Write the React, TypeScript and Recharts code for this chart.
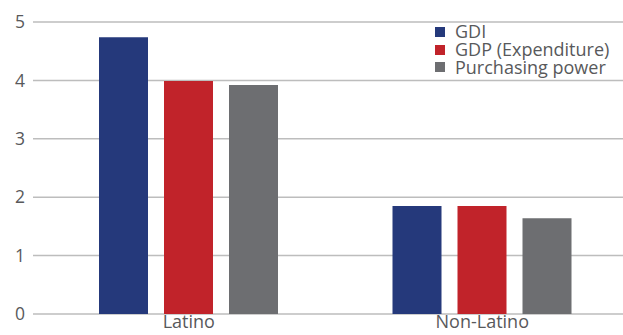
import { BarChart, Bar, XAxis, YAxis, CartesianGrid } from "recharts";

const categories = ["Latino", "Non-Latino"];
const gdi = [4.74, 1.85];
const gdp = [3.99, 1.85];
const purchasing = [3.92, 1.64];
const yTicks = [0, 1, 2, 3, 4, 5];

const series = [
  { key: "gdi", name: "GDI", color: "#25397b" },
  { key: "gdp", name: "GDP (Expenditure)", color: "#c1232a" },
  { key: "pp", name: "Purchasing power", color: "#6d6e71" },
];

const data = categories.map((c, i) => ({
  name: c,
  gdi: gdi[i],
  gdp: gdp[i],
  pp: purchasing[i],
}));

const font = "'Open Sans', Lato, sans-serif";
const textColor = "#58595b";

function LegendBox() {
  return (
    <div
      style={{
        position: "absolute",
        left: 435,
        top: 23,
        fontFamily: font,
        fontSize: 18,
        color: textColor,
      }}
    >
      {series.map((s) => (
        <div key={s.key} style={{ display: "flex", alignItems: "center", height: 17.8 }}>
          <div style={{ width: 10, height: 10, background: s.color, marginRight: 10 }} />
          <span style={{ lineHeight: "17.8px", whiteSpace: "nowrap" }}>{s.name}</span>
        </div>
      ))}
    </div>
  );
}

export default function App() {
  return (
    <div
      style={{
        position: "absolute",
        left: 0,
        top: 0,
        width: 623,
        height: 335,
        overflow: "hidden",
        background: "#fff",
      }}
    >
      <BarChart
        width={629}
        height={335}
        data={data}
        margin={{ top: 22, right: 0, bottom: 0, left: 0 }}
        barCategoryGap={57}
        barGap={16}
      >
        <CartesianGrid vertical={false} stroke="#bdbdbd" strokeWidth={1.5} />
        <XAxis
          dataKey="name"
          axisLine={false}
          tickLine={false}
          height={21}
          padding={{ left: 9, right: 0 }}
          tick={{ fill: textColor, fontSize: 18, fontFamily: font }}
          tickSize={0}
          tickMargin={1}
        />
        <YAxis
          width={33}
          domain={[0, 5]}
          ticks={yTicks}
          axisLine={false}
          tickLine={false}
          tickSize={0}
          tickMargin={8}
          tick={{ fill: textColor, fontSize: 17.5, fontFamily: font }}
        />
        {series.map((s) => (
          <Bar
            key={s.key}
            dataKey={s.key}
            name={s.name}
            fill={s.color}
            barSize={49}
            isAnimationActive={false}
          />
        ))}
      </BarChart>
      <LegendBox />
    </div>
  );
}
